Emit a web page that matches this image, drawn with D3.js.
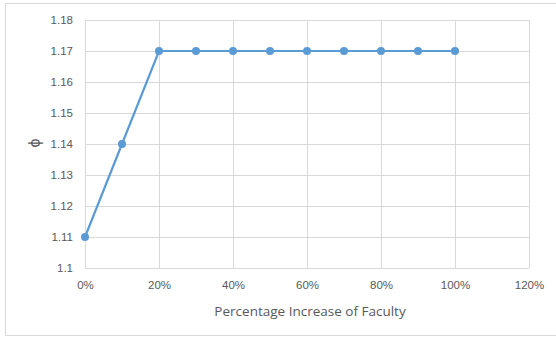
<!DOCTYPE html>
<html>
<head>
<meta charset="utf-8">
<script src="https://cdn.jsdelivr.net/npm/d3@7"></script>
<style>
  html, body { margin: 0; padding: 0; background: #fff; }
  svg { display: block; font-family: "Open Sans", sans-serif; }
</style>
</head>
<body>
<svg id="chart" width="556" height="337"></svg>
<script>
// Faculty increase (%) vs. phi
const increases = [0, 10, 20, 30, 40, 50, 60, 70, 80, 90, 100];
const phiValues = [1.11, 1.14, 1.17, 1.17, 1.17, 1.17, 1.17, 1.17, 1.17, 1.17, 1.17];
const xTicks = [0, 20, 40, 60, 80, 100, 120];
const yTicks = [1.10, 1.11, 1.12, 1.13, 1.14, 1.15, 1.16, 1.17, 1.18];
const xTitle = "Percentage Increase of Faculty";
const yTitle = "ϕ";

const svg = d3.select("#chart");
const W = 556, H = 337;
const plot = { left: 85, top: 20, right: 529, bottom: 268 };
const textColor = "#595959";

// chart frame
svg.append("rect")
  .attr("x", 5.5).attr("y", 3.5)
  .attr("width", W + 10).attr("height", 332)
  .attr("fill", "#fff").attr("stroke", "#d9d9d9").attr("stroke-width", 1);

const x = d3.scaleLinear().domain([0, 120]).range([plot.left, plot.right]);
const y = d3.scaleLinear().domain([1.10, 1.18]).range([plot.bottom, plot.top]);

// horizontal gridlines + y labels
const yAxis = d3.axisLeft(y).tickValues(yTicks)
  .tickSize(-(plot.right - plot.left)).tickPadding(12)
  .tickFormat(d => String(+d.toFixed(2)));
const gy = svg.append("g").attr("transform", `translate(${plot.left},0)`).call(yAxis);
gy.select(".domain").remove();
gy.selectAll(".tick line").attr("stroke", "#d9d9d9").attr("shape-rendering", "crispEdges");
gy.selectAll(".tick text").attr("fill", textColor).attr("font-size", 11.5);

// vertical gridlines + x labels
const xAxis = d3.axisBottom(x).tickValues(xTicks)
  .tickSize(-(plot.bottom - plot.top)).tickPadding(13)
  .tickFormat(d => d + "%");
const gx = svg.append("g").attr("transform", `translate(0,${plot.bottom})`).call(xAxis);
gx.select(".domain").remove();
gx.selectAll(".tick line").attr("stroke", "#d9d9d9").attr("shape-rendering", "crispEdges");
gx.selectAll(".tick text").attr("fill", textColor).attr("font-size", 11.5);

// axis titles
svg.append("text")
  .attr("x", (plot.left + plot.right) / 2 + 3).attr("y", 315.5)
  .attr("text-anchor", "middle").attr("fill", textColor).attr("font-size", 13.5)
  .text(xTitle);
svg.append("text")
  .attr("transform", `translate(40,${(plot.top + plot.bottom) / 2 - 1}) rotate(-90)`)
  .attr("text-anchor", "middle").attr("fill", textColor).attr("font-size", 16)
  .text(yTitle);

// series line and markers
const pts = increases.map((d, i) => [d, phiValues[i]]);
svg.append("path")
  .datum(pts)
  .attr("fill", "none").attr("stroke", "#5b9bd5").attr("stroke-width", 2.2)
  .attr("d", d3.line().x(d => x(d[0])).y(d => y(d[1])));
svg.append("g").selectAll("circle").data(pts).join("circle")
  .attr("cx", d => x(d[0])).attr("cy", d => y(d[1])).attr("r", 4)
  .attr("fill", "#5b9bd5");
</script>
</body>
</html>
